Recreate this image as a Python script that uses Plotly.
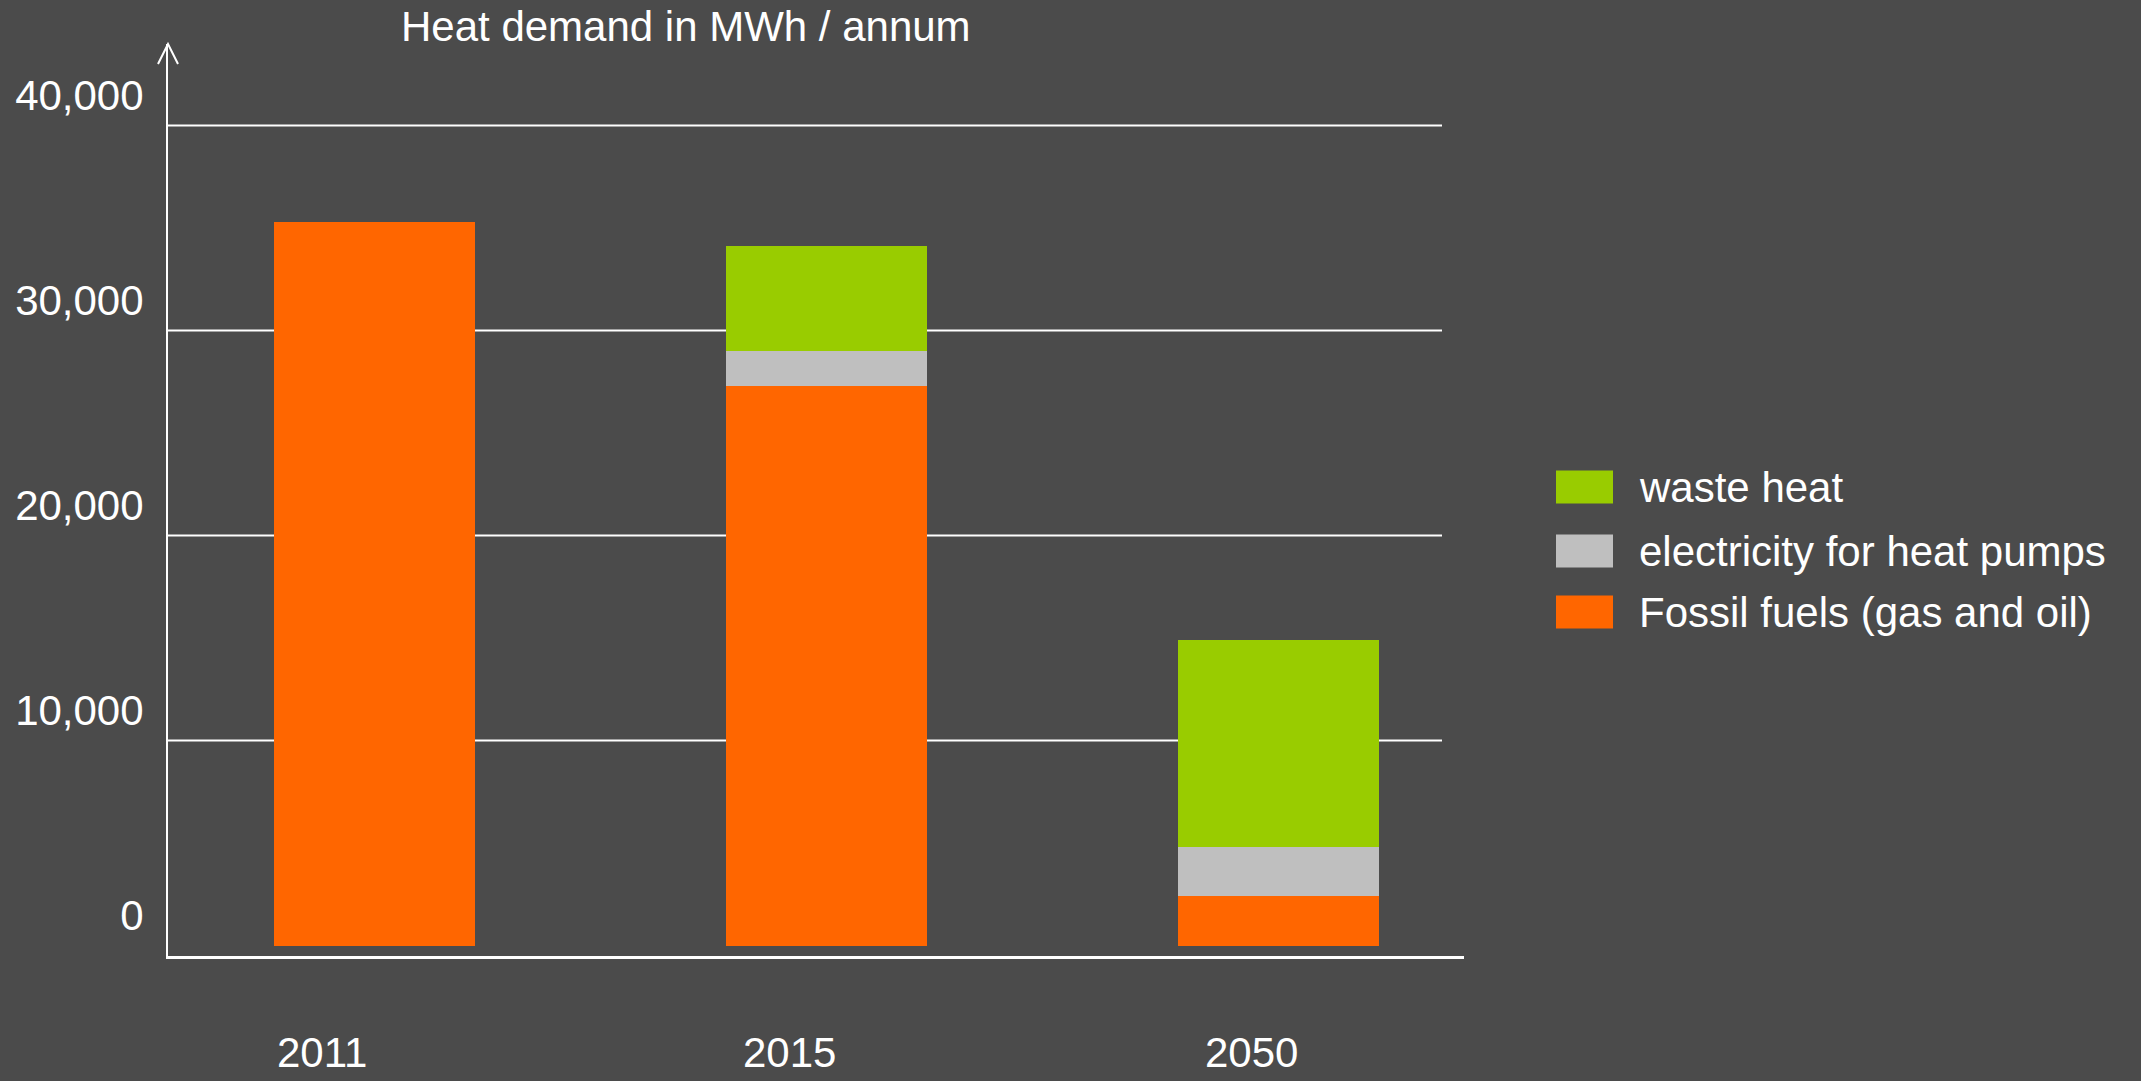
import plotly.graph_objects as go

# Heat demand by source, MWh per annum
years = ["2011", "2015", "2050"]
fossil = [35300, 27300, 2400]
electricity = [0, 1700, 2400]
waste_heat = [0, 5100, 10100]

series_names = ["Fossil fuels (gas and oil)", "electricity for heat pumps", "waste heat"]
series_values = [fossil, electricity, waste_heat]
series_colors = ["#ff6600", "#bfbfbf", "#99cc00"]

y_ticks = [0, 10000, 20000, 30000, 40000]
title_text = "Heat demand in MWh / annum"

W, H = 2141, 1081
BG = "#4b4b4b"
FONT = "Liberation Sans, Arial, sans-serif"
FS = 42

# plot area in pixels
L, R, T, B = 168, 1464, 44, 956
PW, PH = R - L, B - T


def px(x):
    return (x - L) / PW


def py(y):
    return (B - y) / PH


fig = go.Figure()
for name, vals, col in zip(series_names, series_values, series_colors):
    fig.add_trace(go.Bar(
        x=years, y=vals, name=name, marker=dict(color=col, line=dict(width=0)),
        width=0.445, showlegend=False, hoverinfo="x+y+name",
    ))

fig.update_layout(
    width=W, height=H, barmode="stack",
    paper_bgcolor=BG, plot_bgcolor=BG,
    margin=dict(l=L, r=W - R, t=T, b=H - B, pad=0),
    font=dict(family=FONT, size=FS, color="white"),
    showlegend=False,
)

fig.update_xaxes(
    type="category", range=[-0.4575, 2.4097],
    showgrid=False, zeroline=False, showticklabels=False,
    showline=True, linecolor="white", linewidth=3,
)
fig.update_yaxes(
    range=[-512, 43976], tickvals=y_ticks, tickformat=",d",
    showgrid=False, zeroline=False,
    showline=True, linecolor="white", linewidth=2,
    ticks="", ticklabelstandoff=14, ticklabelshift=-30,
    tickfont=dict(size=FS, color="white"),
)

# horizontal gridlines stop short of the x-axis end
for v in y_ticks[1:]:
    fig.add_shape(type="line", xref="paper", yref="y", x0=0, x1=px(1442),
                  y0=v, y1=v, line=dict(color="white", width=2), layer="below")

# open arrowhead at the top of the value axis
fig.add_shape(type="path", xref="paper", yref="paper",
              xsizemode="pixel", ysizemode="pixel", xanchor=0, yanchor=1,
              path="M-10,-20 L0,0 L10,-20",
              line=dict(color="white", width=2))

# axis title
fig.add_annotation(text=title_text, xref="paper", yref="paper",
                   x=px(399), y=py(26), xanchor="left", yanchor="middle",
                   showarrow=False, font=dict(size=FS, color="white"))

# year labels below the bars (category index on the x axis)
year_shift = [-53, -37, -27]
for i, (yr, s) in enumerate(zip(years, year_shift)):
    fig.add_annotation(text=yr, xref="x", yref="paper", x=i, y=py(1052),
                       xshift=s, xanchor="center", yanchor="middle",
                       showarrow=False, font=dict(size=FS, color="white"))

# legend: top-down order is the reverse of the stacking order
row_y = [487, 551, 612]
for i, (name, col) in enumerate(zip(series_names[::-1], series_colors[::-1])):
    cy = row_y[i]
    fig.add_shape(type="rect", xref="paper", yref="paper",
                  x0=px(1556), x1=px(1613), y0=py(cy + 16.5), y1=py(cy - 16.5),
                  fillcolor=col, line=dict(width=0))
    fig.add_annotation(text=name, xref="paper", yref="paper",
                       x=px(1637), y=py(cy), xanchor="left", yanchor="middle",
                       showarrow=False, font=dict(size=FS, color="white"))

fig.write_html("out.html")
